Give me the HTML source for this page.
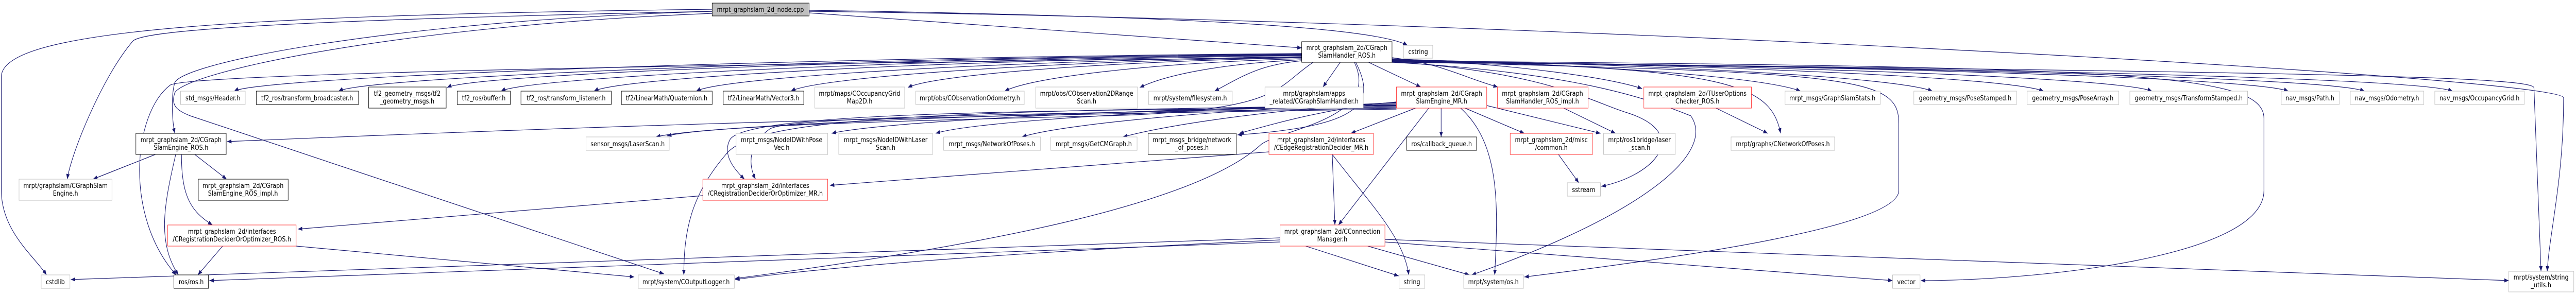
<!DOCTYPE html>
<html><head><meta charset="utf-8"><style>
html,body{margin:0;padding:0;background:#fff;overflow:hidden;width:100%;height:100%;}
svg{display:block;width:100vw;height:100vh;}
text{font-family:"DejaVu Sans","Liberation Sans",sans-serif;font-size:13px;fill:#000;text-anchor:middle;}
.e{fill:none;stroke:#191970;stroke-width:1.2;marker-end:url(#a);}
.b{fill:#fff;stroke:#000;stroke-width:1;}
.g{fill:#fff;stroke:#bfbfbf;stroke-width:1;}
.r{fill:#fff;stroke:#ff3030;stroke-width:1;}
</style></head><body>
<svg viewBox="0 0 5820 573" preserveAspectRatio="none" xmlns="http://www.w3.org/2000/svg">
<defs><marker id="a" markerWidth="11" markerHeight="8" refX="10" refY="4" orient="auto" markerUnits="userSpaceOnUse"><path d="M0,0 L10,4 L0,8z" fill="#191970"/></marker></defs>

<path class="e" d="M1828,22 C3500,40 5790,150 5792,190 C5792,350 5760,450 5755,527"/>
<path class="e" d="M1828,20 C2600,30 3100,50 3180,88"/>
<path class="e" d="M1828,25 L2941,93"/>
<path class="e" d="M1609,18 C500,30 0,60 3,150 L3,370 C3,450 80,500 105,534"/>
<path class="e" d="M1609,22 C600,40 320,60 300,80 C230,150 160,300 152,348"/>
<path class="e" d="M1609,26 C900,50 420,140 395,180 C385,205 400,215 430,225 L1500,532"/>
<path class="e" d="M1609,22 C900,40 420,120 395,160 C385,190 390,240 395,259"/>

<path class="e" d="M2941,104 C1735,112 589,150 529,177"/>
<path class="e" d="M2941,105 C1853,113 825,150 765,177"/>
<path class="e" d="M2941,106 C1975,114 1070,145 1010,170"/>
<path class="e" d="M2941,107 C2036,115 1192,150 1132,177"/>
<path class="e" d="M2941,108 C2141,116 1402,150 1342,177"/>
<path class="e" d="M2941,110 C2257,118 1633,150 1573,177"/>
<path class="e" d="M2941,111 C2364,119 1847,150 1787,177"/>
<path class="e" d="M2941,112 C2496,120 2111,145 2051,170"/>
<path class="e" d="M2941,114 C2605,122 2330,150 2270,177"/>
<path class="e" d="M2941,116 C2758,124 2635,145 2575,170"/>
<path class="e" d="M2941,118 C2842,126 2804,150 2744,177"/>
<path class="e" d="M3028,121 L2989,169"/>
<path class="e" d="M3092,121 L3210,169"/>
<path class="e" d="M3145,112 C3264,125 3304,150 3384,169"/>
<path class="e" d="M3145,114 C3427,125 3630,150 3710,172"/>
<path class="e" d="M3145,115 C3606,125 3988,150 4068,177"/>
<path class="e" d="M3145,116 C3755,125 4286,150 4366,177"/>
<path class="e" d="M3145,117 C3881,126 4537,150 4617,177"/>
<path class="e" d="M3145,118 C4003,127 4782,150 4862,177"/>
<path class="e" d="M3145,119 C4157,128 5090,150 5170,177"/>
<path class="e" d="M3145,120 C4243,129 5262,150 5342,177"/>
<path class="e" d="M3145,121 C4343,130 5461,150 5541,177"/>
<path class="e" d="M3063,121 C3110,200 3080,245 2796,262"/>
<path class="e" d="M2967,121 C2880,170 2900,215 2500,225 C2000,235 1600,245 1507,264"/>
<path class="e" d="M3060,121 C3120,230 2900,250 2850,280 C2700,400 2200,480 1661,541"/>
<path class="e" d="M2941,112 C1000,130 420,150 385,165 C300,220 280,420 398,534"/>
<path class="e" d="M3145,118 C3900,130 4000,160 4023,259"/>
<path class="e" d="M3145,120 C3500,140 3600,200 3680,220 C3820,260 3740,340 3618,362"/>
<path class="e" d="M3145,121 C3550,140 3720,190 3820,225 C3880,300 3700,420 3325,534"/>
<path class="e" d="M3145,120 C4200,140 4290,150 4290,240 L4290,370 C4290,440 3800,500 3444,538"/>
<path class="e" d="M3145,118 C4800,130 5115,140 5115,230 L5115,370 C5115,500 4600,545 4340,545"/>
<path class="e" d="M3145,119 C5000,140 5715,145 5725,170 L5741,527"/>

<path class="e" d="M3155,212 C2000,225 1200,250 513,275"/>
<path class="e" d="M3155,206 C2500,215 1600,240 1482,266"/>
<path class="e" d="M3155,204 C2600,210 2000,235 1879,259"/>
<path class="e" d="M3155,202 C2700,210 2200,235 2114,259"/>
<path class="e" d="M3155,200 C2800,210 2400,240 2309,266"/>
<path class="e" d="M3155,199 C2900,210 2650,240 2537,266"/>
<path class="e" d="M3155,198 C3000,210 2880,240 2800,259"/>
<path class="e" d="M3198,210 L3052,259"/>
<path class="e" d="M3256,210 L3256,266"/>
<path class="e" d="M3310,210 L3444,259"/>
<path class="e" d="M3359,205 L3616,259"/>
<path class="e" d="M3228,210 L3024,437"/>
<path class="e" d="M3300,210 C3390,280 3385,400 3377,534"/>
<path class="e" d="M3155,208 C2400,215 1700,215 1650,270 C1630,300 1660,330 1682,348"/>
<path class="e" d="M3155,210 C2400,220 1800,225 1740,250 C1690,280 1690,320 1707,348"/>
<path class="e" d="M3155,205 C2000,215 1700,235 1640,300 C1560,380 1545,450 1545,534"/>
<path class="e" d="M3533,210 L3650,259"/>
<path class="e" d="M3877,210 L3994,259"/>
<path class="e" d="M3521,300 L3567,355"/>

<path class="e" d="M351,300 L210,348"/>
<path class="e" d="M397,300 C370,400 355,470 403,534"/>
<path class="e" d="M410,300 C410,380 430,410 480,437"/>
<path class="e" d="M440,300 L512,348"/>
<path class="e" d="M503,478 L447,534"/>
<path class="e" d="M669,478 L1433,538"/>
<path class="e" d="M1588,380 L673,445"/>
<path class="e" d="M2867,295 L1875,360"/>
<path class="e" d="M3010,300 L3016,437"/>
<path class="e" d="M3010,300 C3100,400 3170,460 3183,534"/>
<path class="e" d="M2892,470 L473,545"/>
<path class="e" d="M2892,462 L160,543"/>
<path class="e" d="M2892,466 C2300,490 1900,515 1661,543"/>
<path class="e" d="M2950,478 L3160,536"/>
<path class="e" d="M3090,478 L3320,534"/>
<path class="e" d="M3129,470 L4276,545"/>
<path class="e" d="M3129,465 L5668,545"/>

<rect x="1609" y="6" width="219" height="25" fill="#bfbfbf" stroke="#000"/><text x="1718" y="23">mrpt_graphslam_2d_node.cpp</text>
<rect class="b" x="2941" y="81" width="204" height="40"/><text x="3043" y="97">mrpt_graphslam_2d/CGraph</text><text x="3043" y="112">SlamHandler_ROS.h</text>
<rect class="g" x="3171" y="88" width="66" height="25"/><text x="3204" y="105">cstring</text>

<rect class="g" x="408" y="177" width="146" height="26"/><text x="481" y="195">std_msgs/Header.h</text>
<rect class="b" x="579" y="177" width="231" height="26"/><text x="694" y="195">tf2_ros/transform_broadcaster.h</text>
<rect class="b" x="833" y="169" width="175" height="41"/><text x="920" y="186">tf2_geometry_msgs/tf2</text><text x="920" y="201">_geometry_msgs.h</text>
<rect class="b" x="1033" y="177" width="120" height="26"/><text x="1093" y="195">tf2_ros/buffer.h</text>
<rect class="b" x="1177" y="177" width="204" height="26"/><text x="1279" y="195">tf2_ros/transform_listener.h</text>
<rect class="b" x="1404" y="177" width="205" height="26"/><text x="1506" y="195">tf2/LinearMath/Quaternion.h</text>
<rect class="b" x="1634" y="177" width="182" height="26"/><text x="1725" y="195">tf2/LinearMath/Vector3.h</text>
<rect class="g" x="1841" y="169" width="203" height="41"/><text x="1942" y="186">mrpt/maps/COccupancyGrid</text><text x="1942" y="201">Map2D.h</text>
<rect class="g" x="2069" y="177" width="245" height="26"/><text x="2191" y="195">mrpt/obs/CObservationOdometry.h</text>
<rect class="g" x="2340" y="169" width="230" height="41"/><text x="2455" y="186">mrpt/obs/CObservation2DRange</text><text x="2455" y="201">Scan.h</text>
<rect class="g" x="2595" y="177" width="189" height="26"/><text x="2689" y="195">mrpt/system/filesystem.h</text>
<rect class="g" x="2858" y="169" width="222" height="41"/><text x="2969" y="186">mrpt/graphslam/apps</text><text x="2969" y="201">_related/CGraphSlamHandler.h</text>
<rect class="r" x="3155" y="169" width="204" height="41"/><text x="3257" y="186">mrpt_graphslam_2d/CGraph</text><text x="3257" y="201">SlamEngine_MR.h</text>
<rect class="r" x="3383" y="169" width="205" height="41"/><text x="3485" y="186">mrpt_graphslam_2d/CGraph</text><text x="3485" y="201">SlamHandler_ROS_impl.h</text>
<rect class="r" x="3714" y="169" width="243" height="41"/><text x="3835" y="186">mrpt_graphslam_2d/TUserOptions</text><text x="3835" y="201">Checker_ROS.h</text>
<rect class="g" x="4033" y="177" width="215" height="26"/><text x="4140" y="195">mrpt_msgs/GraphSlamStats.h</text>
<rect class="g" x="4324" y="177" width="232" height="26"/><text x="4440" y="195">geometry_msgs/PoseStamped.h</text>
<rect class="g" x="4580" y="177" width="207" height="26"/><text x="4683" y="195">geometry_msgs/PoseArray.h</text>
<rect class="g" x="4812" y="177" width="266" height="26"/><text x="4945" y="195">geometry_msgs/TransformStamped.h</text>
<rect class="g" x="5154" y="177" width="131" height="26"/><text x="5219" y="195">nav_msgs/Path.h</text>
<rect class="g" x="5310" y="177" width="166" height="26"/><text x="5393" y="195">nav_msgs/Odometry.h</text>
<rect class="g" x="5501" y="177" width="202" height="26"/><text x="5602" y="195">nav_msgs/OccupancyGrid.h</text>

<rect class="b" x="307" y="259" width="204" height="41"/><text x="409" y="276">mrpt_graphslam_2d/CGraph</text><text x="409" y="291">SlamEngine_ROS.h</text>
<rect class="g" x="1324" y="266" width="188" height="26"/><text x="1418" y="284">sensor_msgs/LaserScan.h</text>
<rect class="g" x="1663" y="259" width="207" height="41"/><text x="1766" y="276">mrpt_msgs/NodeIDWithPose</text><text x="1766" y="291">Vec.h</text>
<rect class="g" x="1895" y="259" width="212" height="41"/><text x="2001" y="276">mrpt_msgs/NodeIDWithLaser</text><text x="2001" y="291">Scan.h</text>
<rect class="g" x="2132" y="266" width="219" height="26"/><text x="2241" y="284">mrpt_msgs/NetworkOfPoses.h</text>
<rect class="g" x="2374" y="266" width="195" height="26"/><text x="2471" y="284">mrpt_msgs/GetCMGraph.h</text>
<rect class="b" x="2594" y="259" width="199" height="41"/><text x="2693" y="276">mrpt_msgs_bridge/network</text><text x="2693" y="291">_of_poses.h</text>
<rect class="r" x="2867" y="259" width="236" height="41"/><text x="2985" y="276">mrpt_graphslam_2d/interfaces</text><text x="2985" y="291">/CEdgeRegistrationDecider_MR.h</text>
<rect class="b" x="3178" y="266" width="158" height="26"/><text x="3257" y="284">ros/callback_queue.h</text>
<rect class="r" x="3412" y="259" width="186" height="41"/><text x="3505" y="276">mrpt_graphslam_2d/misc</text><text x="3505" y="291">/common.h</text>
<rect class="g" x="3623" y="259" width="162" height="41"/><text x="3704" y="276">mrpt/ros1bridge/laser</text><text x="3704" y="291">_scan.h</text>
<rect class="g" x="3911" y="266" width="234" height="26"/><text x="4028" y="284">mrpt/graphs/CNetworkOfPoses.h</text>

<rect class="g" x="43" y="348" width="210" height="41"/><text x="148" y="365">mrpt/graphslam/CGraphSlam</text><text x="148" y="380">Engine.h</text>
<rect class="b" x="448" y="348" width="203" height="41"/><text x="549" y="365">mrpt_graphslam_2d/CGraph</text><text x="549" y="380">SlamEngine_ROS_impl.h</text>
<rect class="r" x="1588" y="348" width="282" height="41"/><text x="1729" y="365">mrpt_graphslam_2d/interfaces</text><text x="1729" y="380">/CRegistrationDeciderOrOptimizer_MR.h</text>
<rect class="g" x="3541" y="355" width="75" height="26"/><text x="3578" y="373">sstream</text>

<rect class="r" x="379" y="437" width="290" height="41"/><text x="524" y="454">mrpt_graphslam_2d/interfaces</text><text x="524" y="469">/CRegistrationDeciderOrOptimizer_ROS.h</text>
<rect class="r" x="2892" y="437" width="237" height="41"/><text x="3010" y="454">mrpt_graphslam_2d/CConnection</text><text x="3010" y="469">Manager.h</text>

<rect class="g" x="93" y="534" width="65" height="26"/><text x="125" y="552">cstdlib</text>
<rect class="b" x="393" y="534" width="78" height="26"/><text x="432" y="552">ros/ros.h</text>
<rect class="g" x="1442" y="534" width="217" height="26"/><text x="1550" y="552">mrpt/system/COutputLogger.h</text>
<rect class="g" x="3161" y="534" width="58" height="26"/><text x="3190" y="552">string</text>
<rect class="g" x="3307" y="534" width="135" height="26"/><text x="3374" y="552">mrpt/system/os.h</text>
<rect class="g" x="4276" y="534" width="62" height="26"/><text x="4307" y="552">vector</text>
<rect class="g" x="5668" y="527" width="147" height="40"/><text x="5741" y="543">mrpt/system/string</text><text x="5741" y="558">_utils.h</text>
</svg>
</body></html>
